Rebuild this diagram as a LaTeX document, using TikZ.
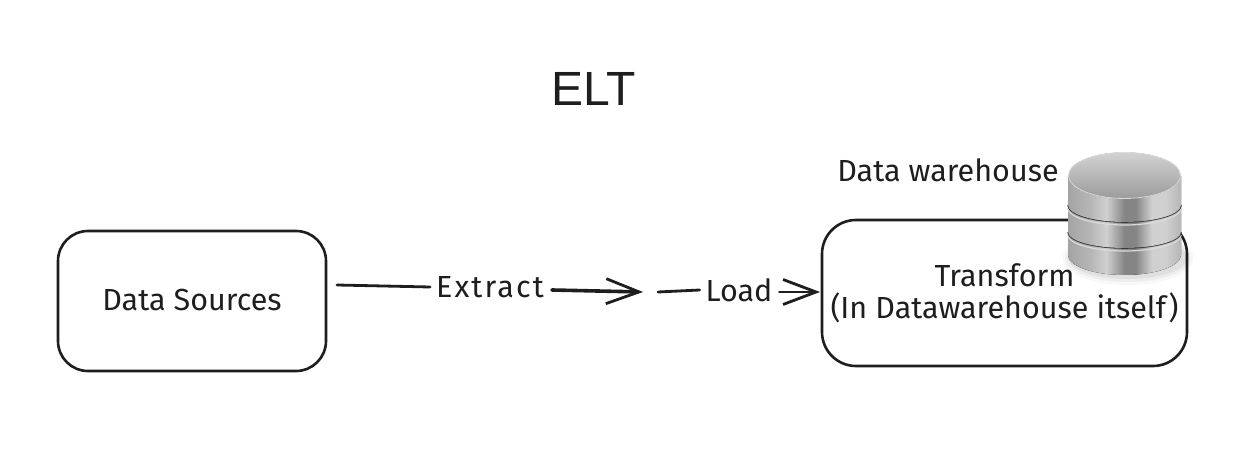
\documentclass[tikz,border=0pt]{standalone}
\usepackage{fontspec}
\setmainfont{Fira Sans}
\newfontfamily\titlefont{Liberation Sans}
\usetikzlibrary{arrows.meta}
\definecolor{c0}{HTML}{A4A4A4}
\definecolor{c1}{HTML}{B6B6B6}
\definecolor{c2}{HTML}{D0D0D0}
\definecolor{c3}{HTML}{ABABAB}
\definecolor{c4}{HTML}{858585}
\definecolor{c5}{HTML}{8E8E8E}
\definecolor{t1}{HTML}{9C9C9C}
\definecolor{t2}{HTML}{D2D2D2}
\definecolor{rim}{HTML}{DADADA}
\definecolor{groove}{HTML}{3A3A3A}
\definecolor{ink}{HTML}{1E1E1E}
\pgfdeclarehorizontalshading{metal}{100bp}{
  color(0bp)=(c0);color(25bp)=(c0);color(35bp)=(c1);color(42bp)=(c2);color(50bp)=(c4);color(55bp)=(c4);color(62bp)=(c2);color(68bp)=(c2);color(78bp)=(c3);color(100bp)=(c5)}
\pgfdeclareverticalshading{metaltop}{100bp}{
  color(0bp)=(t1);color(25bp)=(t1);color(75bp)=(t2);color(100bp)=(t2)}
\tikzset{
  box/.style={draw=ink,line width=2.6pt,rounded corners=30pt,align=center,inner sep=0pt,text=ink,font=\fontsize{30.5}{32}\selectfont},
  lbl/.style={inner sep=0pt,text=ink,font=\fontsize{30.5}{32}\selectfont},
  flabel/.style={lbl,outer sep=6pt},
  flow/.style={draw=ink,line width=2.8pt,line cap=round},
  heavy/.style={line width=3.6pt},
  tip/.style={-{Straight Barb[length=33pt,width=25pt,line width=2.8pt]}}
}
\newcommand{\tier}[3]{% side y, bottom-centre y, top y
  \fill[shading=metal] (1068,#3) -- (1068,#1) arc[start angle=180,end angle=0,x radius=56.5,y radius=#2-#1] -- (1181,#3) -- cycle;
}
\begin{document}
\begin{tikzpicture}[x=1pt,y=-1pt]
\useasboundingbox[fill=white] (0,0) rectangle (1248,454);
\node[text=ink,font=\titlefont\fontsize{48}{50}\selectfont,inner sep=0pt] (title) at (594,89) {ELT};
\node[box,minimum width=268pt,minimum height=140pt] (src) at (192,301) {\raisebox{2pt}{Data Sources}};
\node[box,minimum width=365pt,minimum height=146pt,rounded corners=34pt] (dw) at (1004.5,293) {Transform\\(In Datawarehouse itself)};
\node[lbl] (wh) at (948,170) {Data warehouse};
\node[flabel] (ext) at (490,287) {\addfontfeature{LetterSpace=7}Extract};
\node[flabel] (load) at (739,290) {Load};
\coordinate (s) at (337,285);
\coordinate (m) at (643,292);
\coordinate (n) at (658,292);
\coordinate (e) at (820,292);
\draw[flow] (s) -- (ext.west);
\draw[flow,tip,heavy] (ext.east) ++(2,3) -- (m);
\draw[flow] (n) -- (load.west);
\draw[flow,tip] (load.east) ++(1,2) -- (e);
% cylinder shadow
\foreach \o/\r in {0.03/9,0.04/6,0.05/3}
  \fill[black,opacity=\o] (1128,258) ellipse[x radius=56.5+\r,y radius=18+\r];
% cylinder
\tier{255}{275}{232}
\draw[rim,line width=1.2pt] (1068,235) arc[start angle=180,end angle=0,x radius=56.5,y radius=16];
\draw[groove,line width=1.6pt] (1068,232) arc[start angle=180,end angle=0,x radius=56.5,y radius=16];
\tier{232}{248}{205}
\draw[rim,line width=1.2pt] (1068,208) arc[start angle=180,end angle=0,x radius=56.5,y radius=17];
\draw[groove,line width=1.6pt] (1068,205) arc[start angle=180,end angle=0,x radius=56.5,y radius=17];
\tier{205}{222}{176}
\filldraw[draw=rim,line width=0.8pt,shading=metaltop] (1124.5,175.5) ellipse[x radius=56,y radius=23];
\end{tikzpicture}
\end{document}
